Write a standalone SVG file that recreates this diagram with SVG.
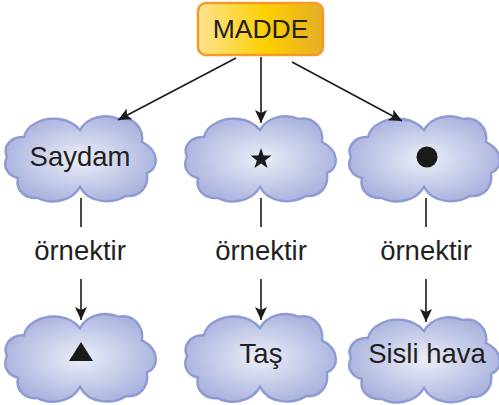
<svg xmlns="http://www.w3.org/2000/svg" width="499" height="405" viewBox="0 0 499 405">
<defs>
<linearGradient id="boxg" x1="0" y1="0" x2="1" y2="0">
<stop offset="0" stop-color="#fde392"/>
<stop offset="0.55" stop-color="#fccf00"/>
<stop offset="1" stop-color="#e5ae28"/>
</linearGradient>
<radialGradient id="cloudg" cx="0.5" cy="0.5" r="0.55">
<stop offset="0" stop-color="#eceef9"/>
<stop offset="1" stop-color="#a8b1dd"/>
</radialGradient>
<path id="cloud" d="M -1,-29 C -12,-42 -32,-43 -45,-36 C -53,-32 -56,-27 -57,-22 C -70,-23 -79,-12 -74,-2 C -79,8 -73,17 -63,19 C -66,32 -55,40 -43,39 C -32,45 -10,44 -1,28 C 8,45 32,45 45,37 C 59,38 68,28 66,14 C 79,9 78,-9 61,-17 C 63,-31 52,-43 38,-40 C 24,-46 6,-42 -1,-29 Z"/>
<marker id="arr" markerWidth="14" markerHeight="12" refX="13" refY="6" orient="auto" markerUnits="userSpaceOnUse">
<path d="M0,0 L13,6 L0,12 L3,6 Z" fill="#1a1a1a"/>
</marker>
</defs>
<style>
.cl{fill:url(#cloudg);stroke:#8e9ad3;stroke-width:2.4}
.t{font-family:"Liberation Sans",Arial,sans-serif;font-size:27.5px;fill:#231f20;text-anchor:middle}
.ln{stroke:#1a1a1a;stroke-width:1.6;fill:none}
</style>
<g id="madde">
<rect x="198" y="3" width="125" height="52" rx="8" fill="url(#boxg)" stroke="#f39a2a" stroke-width="2.5"/>
<text class="t" x="260.5" y="38" style="font-size:26.5px">MADDE</text>
</g>
<g id="saydam">
<use href="#cloud" class="cl" transform="translate(81,159)"/>
<text class="t" x="80" y="166">Saydam</text>
</g>
<g id="yildiz">
<use href="#cloud" class="cl" transform="translate(261,159)"/>
<polygon points="261,148 263.6,155.5 271.5,155.6 265.2,160.4 267.5,168 261,163.5 254.5,168 256.8,160.4 250.5,155.6 258.4,155.5" fill="#1a1a1a"/>
</g>
<g id="daire">
<use href="#cloud" class="cl" transform="translate(425,159)"/>
<circle cx="427" cy="157" r="10.5" fill="#1a1a1a"/>
</g>
<g id="ucgen">
<use href="#cloud" class="cl" transform="translate(81,358) scale(1,1.03)"/>
<polygon points="81,342 93,361 69,361" fill="#1a1a1a"/>
</g>
<g id="tas">
<use href="#cloud" class="cl" transform="translate(261,358) scale(1,1.03)"/>
<text class="t" x="261" y="363">Taş</text>
</g>
<g id="sisli">
<use href="#cloud" class="cl" transform="translate(425,360)"/>
<text class="t" x="427" y="363">Sisli hava</text>
</g>
<g id="connectors">
<line class="ln" x1="236" y1="58" x2="118" y2="120" marker-end="url(#arr)"/>
<line class="ln" x1="261" y1="57" x2="261" y2="123" marker-end="url(#arr)"/>
<line class="ln" x1="292" y1="62" x2="402" y2="121" marker-end="url(#arr)"/>
<line class="ln" x1="81" y1="198" x2="81" y2="227"/>
<line class="ln" x1="261" y1="198" x2="261" y2="227"/>
<line class="ln" x1="426" y1="198" x2="426" y2="227"/>
<text class="t" x="80" y="260">örnektir</text>
<text class="t" x="261" y="260">örnektir</text>
<text class="t" x="426" y="260">örnektir</text>
<line class="ln" x1="81" y1="279" x2="81" y2="320" marker-end="url(#arr)"/>
<line class="ln" x1="261" y1="279" x2="261" y2="320" marker-end="url(#arr)"/>
<line class="ln" x1="426" y1="279" x2="426" y2="322" marker-end="url(#arr)"/>
</g>
</svg>
